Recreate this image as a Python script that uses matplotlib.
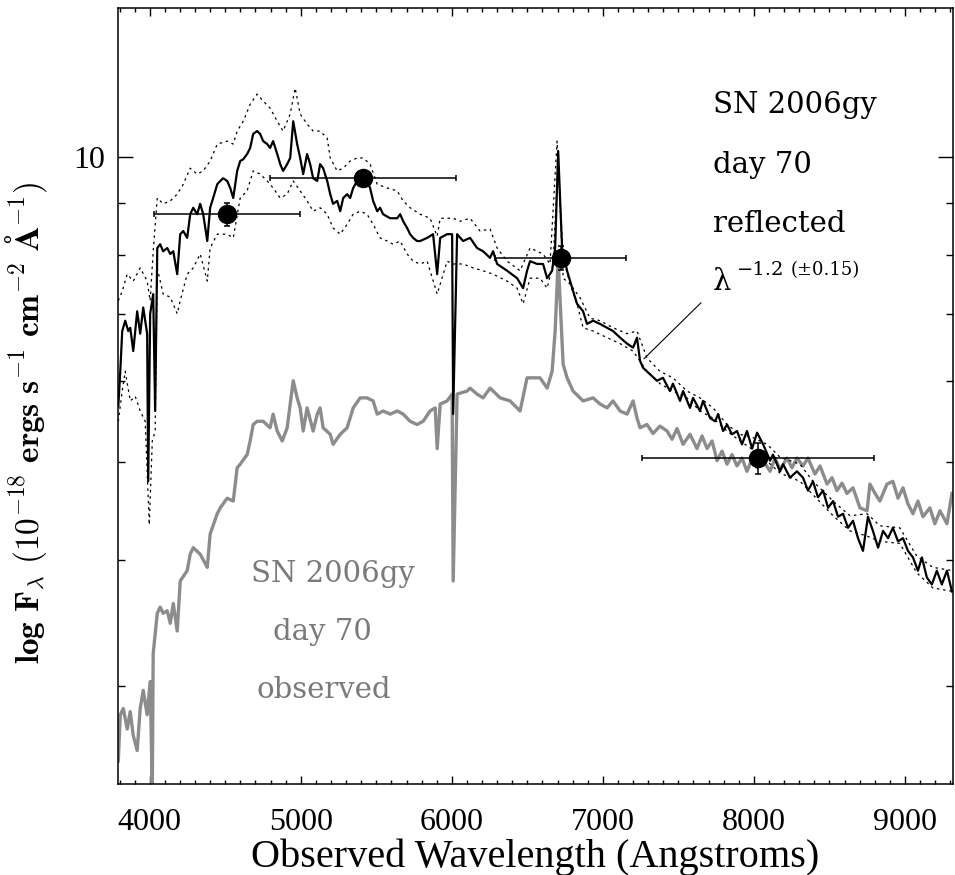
import numpy as np
import matplotlib
matplotlib.use('Agg')
import matplotlib.pyplot as plt
from matplotlib.ticker import FixedLocator, MultipleLocator, NullFormatter

plt.rcParams['font.family'] = 'serif'
plt.rcParams['font.serif'] = ['Liberation Serif', 'DejaVu Serif']

# reflected spectrum (black), Angstrom / 1e-18 erg s-1 cm-2 A-1
wave_ref = [3792, 3805, 3818, 3838, 3858, 3871, 3891, 3917, 3937, 3957, 3983, 3990, 4003, 4023, 4036,
            4050, 4069, 4089, 4116, 4136, 4156, 4182, 4202, 4222, 4248, 4268, 4288, 4314, 4334, 4354,
            4381, 4400, 4420, 4447, 4467, 4486, 4513, 4533, 4553, 4579, 4599, 4619, 4645, 4665, 4685,
            4711, 4731, 4751, 4778, 4797, 4817, 4844, 4864, 4883, 4910, 4930, 4950, 4976, 4996, 5016,
            5042, 5062, 5082, 5109, 5128, 5148, 5175, 5195, 5214, 5241, 5261, 5281, 5307, 5327, 5347,
            5373, 5393, 5439, 5459, 5479, 5506, 5525, 5545, 5592, 5638, 5658, 5678, 5704, 5724, 5744,
            5770, 5790, 5837, 5876, 5903, 5923, 5969, 6002, 6009, 6035, 6075, 6121, 6167, 6207, 6253,
            6273, 6300, 6366, 6432, 6472, 6498, 6518, 6565, 6604, 6631, 6664, 6684, 6704, 6730, 6763,
            6803, 6829, 6869, 6895, 6935, 6981, 7028, 7067, 7114, 7160, 7200, 7226,
            7246, 7266, 7312, 7358, 7398, 7444, 7464, 7511, 7531, 7577, 7597, 7643, 7663, 7710, 7743,
            7763, 7796, 7822, 7855, 7888, 7921, 7954, 7988, 8021, 8061, 8107, 8126, 8173, 8193, 8239,
            8285, 8325, 8358, 8391, 8424, 8458, 8491, 8524, 8557, 8590, 8623, 8656, 8689, 8722, 8755,
            8788, 8822, 8855, 8888, 8920, 8954, 8987, 9020, 9053, 9086, 9112, 9145, 9178, 9211, 9244,
            9278, 9311]
flux_ref = [5.67, 6.14, 6.73, 6.89, 6.73, 6.78, 6.43, 7.04, 6.69, 7.10, 6.69, 4.78, 7.00, 7.32, 5.61,
            8.13, 8.20, 8.07, 8.13, 8.02, 8.07, 7.66, 8.39, 8.45, 8.32, 8.78, 8.91, 8.78, 8.99, 8.78,
            8.26, 8.91, 9.11, 9.40, 9.47, 9.53, 9.47, 9.32, 9.11, 9.69, 9.91, 9.95, 10.07, 10.21, 10.54,
            10.61, 10.54, 10.37, 10.30, 10.21, 10.37, 10.07, 9.84, 9.69, 9.84, 9.98, 10.85, 10.30, 9.98, 9.62,
            10.07, 9.84, 9.53, 9.47, 9.84, 9.75, 9.47, 9.19, 8.99, 9.05, 8.84, 9.11, 9.19, 9.11, 9.32,
            9.47, 9.53, 9.47, 9.32, 9.05, 8.84, 8.91, 8.78, 8.70, 8.70, 8.78, 8.64, 8.51, 8.39, 8.32,
            8.26, 8.26, 8.32, 8.39, 7.66, 8.32, 8.39, 8.39, 5.57, 8.39, 8.26, 8.32, 8.13, 8.07, 7.95,
            8.07, 7.84, 7.72, 7.59, 7.42, 7.72, 7.89, 7.84, 7.84, 7.59, 7.72, 8.13, 10.14, 8.13, 7.72,
            7.37, 7.16, 7.04, 6.84, 6.89, 6.84, 6.78, 6.73, 6.63, 6.54, 6.48, 6.63,
            6.29, 6.19, 6.10, 6.01, 6.05, 5.87, 5.97, 5.74, 5.87, 5.65, 5.78, 5.61, 5.74, 5.52, 5.48,
            5.57, 5.36, 5.44, 5.32, 5.36, 5.20, 5.36, 5.15, 5.34, 5.20, 5.01, 5.08, 4.89, 4.97, 4.82,
            4.89, 4.82, 4.68, 4.78, 4.61, 4.68, 4.50, 4.57, 4.41, 4.44, 4.30, 4.37, 4.20, 4.08, 4.41,
            4.27, 4.11, 4.27, 4.20, 4.30, 4.17, 4.20, 4.08, 4.02, 3.90, 4.02, 3.84, 3.78, 3.90, 3.78,
            3.90, 3.72]

# upper / lower envelope of the reflected spectrum (dotted)
wave_up = [3792, 3818, 3851, 3891, 3937, 3983, 4003, 4023, 4050, 4089, 4136, 4182, 4222, 4268, 4314,
           4354, 4400, 4447, 4513, 4553, 4579, 4619, 4665, 4711, 4751, 4797, 4844, 4883, 4930, 4963,
           4996, 5042, 5082, 5128, 5175, 5195, 5241, 5281, 5327, 5373, 5413, 5459, 5506, 5572, 5638,
           5678, 5724, 5790, 5856, 5903, 5923, 6009, 6055, 6121, 6187, 6253, 6300, 6366, 6452, 6518,
           6604, 6650, 6697, 6737, 6783, 6849, 6915, 6981, 7067, 7160, 7226, 7292, 7378, 7464, 7557,
           7643, 7729, 7822, 7908, 7994, 8087, 8173, 8305, 8391, 8524, 8636, 8749, 8834, 8966, 9079,
           9185, 9318]
flux_up = [7.21, 7.37, 7.66, 7.54, 7.77, 7.54, 7.21, 8.07, 9.11, 8.99, 9.05, 9.19, 9.40, 9.75, 9.62,
           9.69, 9.91, 10.30, 10.37, 10.30, 10.61, 10.85, 11.28, 11.54, 11.36, 11.18, 10.85, 10.61, 11.03, 11.70,
           11.03, 10.78, 10.61, 10.61, 10.44, 9.98, 9.69, 9.75, 9.91, 9.98, 9.98, 9.84, 9.40, 9.32, 9.26,
           9.05, 8.91, 8.78, 8.70, 8.35, 8.70, 8.70, 8.64, 8.70, 8.45, 8.49, 8.13, 7.89, 7.72, 8.13,
           8.02, 7.84, 10.37, 7.95, 7.49, 7.26, 6.93, 6.89, 6.78, 6.69, 6.73, 6.33, 6.14, 6.05, 5.87,
           5.78, 5.65, 5.44, 5.32, 5.28, 5.20, 5.05, 4.97, 4.78, 4.57, 4.42, 4.44, 4.32, 4.30, 4.03,
           3.93, 3.90]
wave_lo = [3792, 3818, 3838, 3871, 3904, 3937, 3970, 3997, 4017, 4036, 4050, 4089, 4136, 4182, 4202,
           4248, 4288, 4334, 4381, 4400, 4447, 4513, 4553, 4599, 4645, 4685, 4731, 4778, 4817, 4864,
           4910, 4950, 4996, 5042, 5082, 5128, 5175, 5214, 5261, 5307, 5347, 5393, 5439, 5479, 5525,
           5572, 5611, 5658, 5704, 5744, 5790, 5837, 5903, 5969, 6009, 6075, 6141, 6207, 6273, 6366,
           6432, 6472, 6518, 6584, 6631, 6670, 6704, 6737, 6783, 6829, 6869, 6935, 7028, 7114, 7200,
           7292, 7378, 7464, 7557, 7643, 7729, 7822, 7908, 8040, 8173, 8305, 8438, 8524, 8636, 8749,
           8834, 8966, 9079, 9185, 9318]
flux_lo = [5.48, 5.87, 6.14, 5.74, 5.80, 5.61, 5.48, 4.33, 5.24, 5.36, 7.77, 7.32, 7.27, 7.00, 7.21,
           7.66, 7.77, 8.02, 7.54, 8.13, 8.39, 8.39, 8.32, 9.11, 9.26, 9.69, 9.62, 9.47, 9.32, 9.11,
           9.19, 9.47, 9.26, 9.05, 8.84, 8.91, 8.78, 8.51, 8.39, 8.58, 8.78, 8.84, 8.78, 8.58, 8.32,
           8.26, 8.20, 8.26, 8.02, 7.89, 7.84, 7.89, 7.32, 7.89, 7.84, 7.84, 7.77, 7.72, 7.66, 7.54,
           7.42, 7.16, 7.59, 7.59, 7.42, 7.84, 9.91, 7.59, 7.49, 7.16, 6.78, 6.73, 6.63, 6.54, 6.43,
           6.14, 5.97, 5.87, 5.78, 5.61, 5.52, 5.36, 5.24, 5.08, 4.87, 4.78, 4.56, 4.42, 4.27, 4.22,
           4.17, 4.15, 3.88, 3.75, 3.72]

# observed spectrum (grey)
wave_obs = [3792, 3805, 3825, 3851, 3871, 3891, 3917, 3937, 3957, 3983, 4003, 4017, 4023, 4050, 4069,
            4089, 4116, 4136, 4156, 4182, 4202, 4248, 4268, 4288, 4334, 4381, 4400, 4447, 4467, 4513,
            4553, 4579, 4599, 4645, 4665, 4685, 4711, 4751, 4797, 4817, 4844, 4877, 4910, 4950, 4976,
            4996, 5016, 5042, 5082, 5109, 5128, 5148, 5195, 5214, 5261, 5307, 5347, 5393, 5439, 5479,
            5506, 5545, 5592, 5638, 5678, 5724, 5770, 5810, 5856, 5890, 5903, 5923, 5969, 6002, 6009,
            6035, 6101, 6121, 6167, 6207, 6253, 6320, 6386, 6452, 6498, 6584, 6631, 6664, 6684, 6704,
            6737, 6763, 6803, 6869, 6935,
            6981, 7028, 7067, 7114, 7160, 7200, 7226, 7246, 7292, 7332, 7378, 7425, 7458, 7491, 7531,
            7577, 7623, 7657, 7690, 7723, 7756, 7789, 7822, 7855, 7888, 7921, 7954, 7988, 8021, 8061,
            8107, 8140, 8173, 8219, 8252, 8285, 8325, 8358, 8404, 8438, 8484, 8517, 8550, 8583, 8616,
            8656, 8702, 8749, 8768, 8802, 8834, 8881, 8920, 8954, 8987, 9020, 9053, 9086, 9119, 9165,
            9198, 9232, 9278, 9311]
flux_obs = [2.53, 2.81, 2.85, 2.72, 2.83, 2.68, 2.59, 2.85, 2.97, 2.81, 3.03, 2.37, 3.23, 3.54, 3.59,
            3.54, 3.56, 3.46, 3.62, 3.40, 3.81, 3.90, 4.05, 4.11, 4.05, 3.93, 4.24, 4.44, 4.50, 4.60,
            4.57, 4.93, 4.97, 5.08, 5.24, 5.44, 5.48, 5.48, 5.40, 5.57, 5.36, 5.24, 5.40, 6.01, 5.78,
            5.65, 5.36, 5.65, 5.36, 5.57, 5.65, 5.40, 5.32, 5.20, 5.32, 5.40, 5.65, 5.78, 5.78, 5.74,
            5.57, 5.61, 5.57, 5.61, 5.57, 5.48, 5.44, 5.48, 5.61, 5.65, 5.15, 5.70, 5.74, 5.83, 3.81,
            5.83, 5.87, 5.91, 5.83, 5.78, 5.91, 5.78, 5.74, 5.61, 6.05, 6.05, 5.91, 6.14, 6.73, 7.92,
            6.24, 6.05, 5.87, 5.74, 5.78,
            5.70, 5.65, 5.74, 5.61, 5.57, 5.74, 5.52, 5.40, 5.44, 5.33, 5.42, 5.36, 5.26, 5.39, 5.20,
            5.32, 5.15, 5.30, 5.15, 5.24, 5.01, 5.12, 4.97, 5.08, 4.95, 5.04, 4.89, 5.03, 4.93, 5.01,
            4.89, 5.04, 4.91, 5.04, 4.93, 5.04, 4.95, 5.04, 4.86, 4.95, 4.75, 4.82, 4.68, 4.76, 4.65,
            4.71, 4.50, 4.47, 4.75, 4.65, 4.57, 4.75, 4.78, 4.60, 4.71, 4.54, 4.44, 4.57, 4.41, 4.50,
            4.34, 4.47, 4.34, 4.65]

# broad-band points
phot_wave = [4513, 5413, 6720, 8027]
phot_werr = [483, 615, 433, 768]
phot_flux = [8.78, 9.53, 7.95, 5.04]
phot_ferr = [0.23, 0.15, 0.22, 0.18]

fig = plt.figure(figsize=(9.55, 8.75), dpi=100)
ax = fig.add_axes([118/955, 1-784/875, 835/955, 776/875])

ax.plot(wave_obs, flux_obs, color='#8c8c8c', lw=2.4, zorder=2)
ax.plot(wave_ref, flux_ref, color='black', lw=1.6, zorder=3)
ax.plot(wave_up, flux_up, color='black', lw=0.9, ls=(0, (2, 3)), zorder=3)
ax.plot(wave_lo, flux_lo, color='black', lw=0.9, ls=(0, (2, 3)), zorder=3)
ax.errorbar(phot_wave, phot_flux, xerr=phot_werr, yerr=phot_ferr, fmt='o', color='black',
            ms=13, elinewidth=1.1, capsize=2.5, capthick=1.1, zorder=4)

ax.annotate('', xy=(7259, 6.29), xytext=(7663, 7.21),
            arrowprops=dict(arrowstyle='-', lw=0.8, color='black'))

ax.set_yscale('log')
ax.set_xlim(3790, 9318)
ax.set_ylim(2.40, 14.04)
ax.xaxis.set_major_locator(MultipleLocator(1000))
ax.xaxis.set_minor_locator(MultipleLocator(100))
ax.yaxis.set_major_locator(FixedLocator([10]))
ax.yaxis.set_minor_locator(FixedLocator([3, 4, 5, 6, 7, 8, 9]))
ax.yaxis.set_major_formatter(plt.FixedFormatter(['10']))
ax.yaxis.set_minor_formatter(NullFormatter())

ax.tick_params(which='both', direction='in', top=True, right=True, width=1.0, labelsize=23)
ax.tick_params(axis='x', which='major', length=6, pad=17)
ax.tick_params(axis='x', which='minor', length=3)
ax.tick_params(axis='y', which='major', length=11, pad=9)
ax.tick_params(axis='y', which='minor', length=5)
for s in ax.spines.values():
    s.set_linewidth(1.1)

ax.set_xlabel('Observed Wavelength (Angstroms)', fontsize=29)
ax.xaxis.set_label_coords(0.5, -0.07)
ax.set_ylabel(r'$\mathbf{log\ F_{\lambda}\ (10^{-18}\ ergs\ s^{-1}\ cm^{-2}\ Å^{-1})}$',
              fontsize=24, math_fontfamily='cm')
ax.yaxis.set_label_coords(-0.083, 0.465)

for txt, yy in [('SN 2006gy', 113), ('day 70', 173), ('reflected', 232)]:
    fig.text(713/955, 1-yy/875, txt, family='DejaVu Serif', fontsize=21,
             ha='left', va='baseline')
# lambda^-1.2 (+-0.15) label, upright lambda as in the original
fig.text(713/955, 1-290/875, 'λ', family='DejaVu Serif', fontsize=21, ha='left', va='baseline')
fig.text(737/955, 1-275/875, '\u22121.2', family='DejaVu Serif', fontsize=14, ha='left', va='baseline')
fig.text(791/955, 1-275/875, '(\u00b10.15)', family='DejaVu Serif', fontsize=13, ha='left', va='baseline')

for txt, xx, yy in [('SN 2006gy', 333, 582), ('day 70', 322, 640), ('observed', 324, 698)]:
    fig.text(xx/955, 1-yy/875, txt, family='DejaVu Serif', fontsize=21, color='#7a7a7a',
             ha='center', va='baseline')

fig.savefig('out.png', dpi=100)
